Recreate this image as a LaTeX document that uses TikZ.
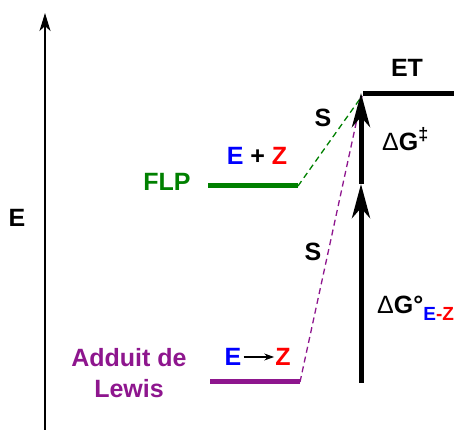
\documentclass[tikz,border=0pt]{standalone}
\usepackage{fontspec}
\setmainfont{Liberation Sans}
\usetikzlibrary{arrows.meta,positioning}
\definecolor{flpgreen}{RGB}{0,128,0}
\definecolor{adpurple}{RGB}{142,22,142}
\definecolor{ezblue}{RGB}{0,0,255}
\definecolor{ezred}{RGB}{255,0,0}

\begin{document}
\begin{tikzpicture}[x=1pt, y=-1pt,
    lbl/.style={inner sep=0pt, font=\fontsize{25}{30}\selectfont\bfseries},
    level/.style={line width=5pt},
    path/.style={dashed, dash pattern=on 6pt off 4pt, line width=1.3pt},
    bigarrow/.style={line width=5pt, -{Stealth[length=34pt, width=18pt, inset=10pt]}}
  ]
  \useasboundingbox (0,0) rectangle (461,430);

  % energy axis
  \coordinate (axB) at (45,430);
  \coordinate (axT) at (45,13);
  \draw[line width=2pt, -{Stealth[length=18pt, width=11pt, inset=5pt]}] (axB) -- (axT);
  \node[lbl] (axE) at (17,218) {E};

  % levels
  \coordinate (etL) at (363,94);
  \coordinate (etR) at (454,94);
  \coordinate (flpL) at (208,186);
  \coordinate (flpR) at (298,186);
  \coordinate (adL) at (210,382);
  \coordinate (adR) at (300,382);
  \draw[level] (etL) -- (etR);
  \draw[level, flpgreen] (flpL) -- (flpR);
  \draw[level, adpurple] (adL) -- (adR);

  \node[lbl] (et) at (407,68) {ET};
  \node[lbl, flpgreen] (flp) at (167,182) {FLP};
  \node[lbl, adpurple, align=center, font=\fontsize{25}{31}\selectfont\bfseries] (adduit) at (129,373) {Adduit de\\Lewis};
  \node[lbl] (ez) at (257,156) {\textcolor{ezblue}{E} + \textcolor{ezred}{Z}};
  \node[lbl, ezblue] (adE) at (233,357) {E};
  \node[lbl, ezred] (adZ) at (283,357) {Z};
  \draw[line width=1.2pt, shorten <=2pt, shorten >=1pt, -{Stealth[length=10pt, width=7pt]}] (adE) -- (adZ);

  % paths to the transition state
  \coordinate (ts) at (362,96);
  \draw[path, flpgreen] (flpR) -- (ts);
  \draw[path, adpurple] (adR) -- (ts);
  \node[lbl] (s1) at (323,118) {S};
  \node[lbl] (s2) at (313,252) {S};

  % free energies
  \coordinate (aB) at (361,383);
  \coordinate (aM) at (361,184);
  \coordinate (aT) at (361,93);
  \draw[bigarrow] (aB) -- (aM);
  \draw[bigarrow] (aM) -- (aT);
  \node[lbl, anchor=base west] (dgts) at (382,151) {{\mdseries Δ}G\raisebox{10pt}{\fontsize{18}{20}\selectfont ‡}};
  \node[lbl, anchor=base west] (dgez) at (377,314) {{\mdseries Δ}G°\raisebox{-7pt}{\fontsize{19}{22}\selectfont\textcolor{ezblue}{E}\textcolor{ezred}{-Z}}};
\end{tikzpicture}
\end{document}
